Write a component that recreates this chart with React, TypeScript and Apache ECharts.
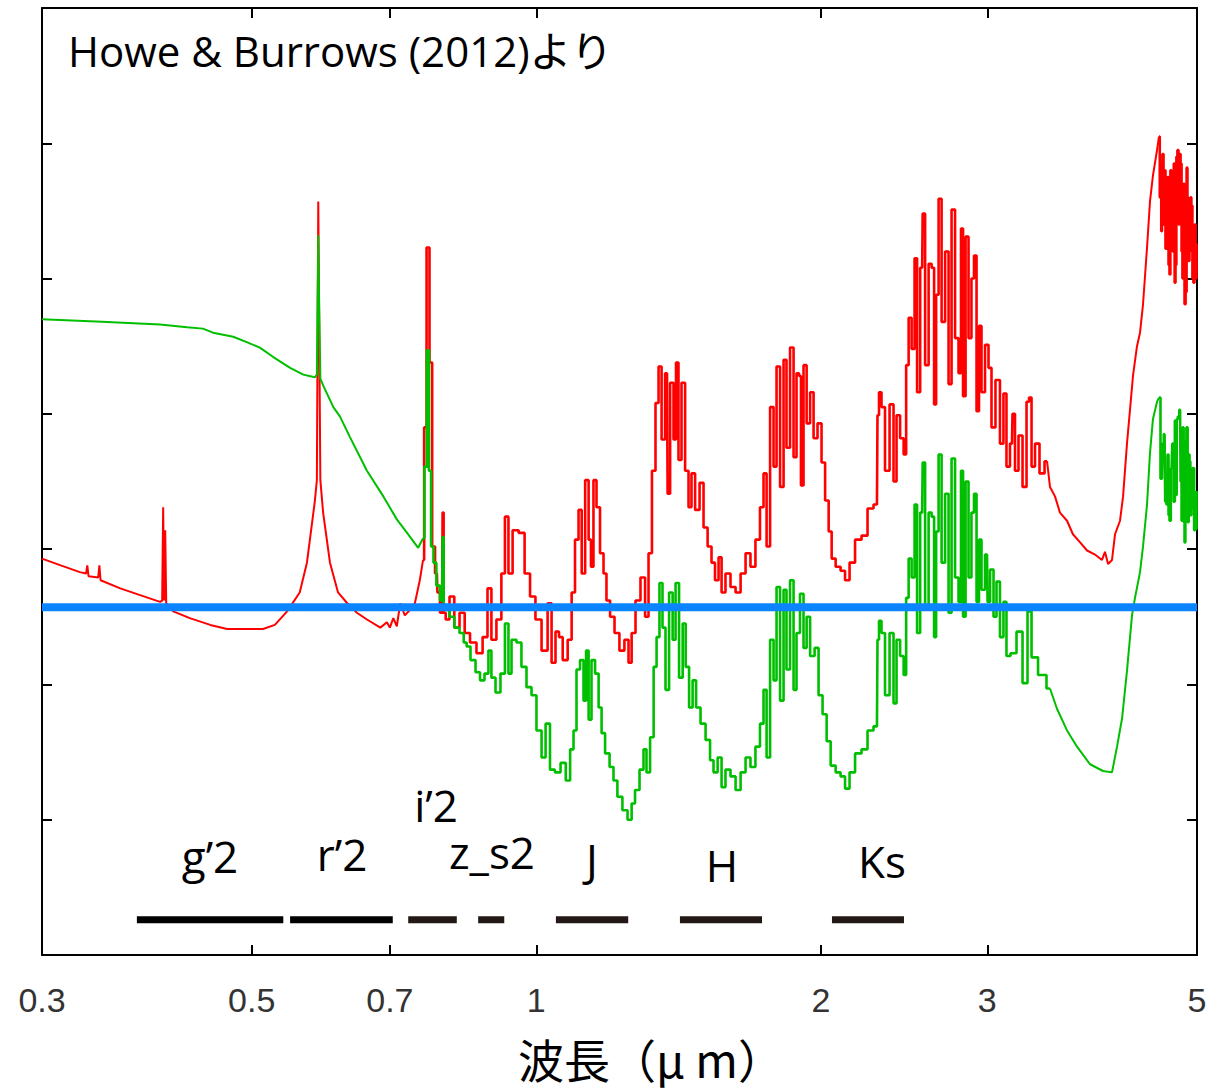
import React, { useEffect, useRef } from "react";
import * as echarts from "echarts";

// x axis: wavelength (μm), logarithmic
const tickValues = [0.3, 0.5, 0.7, 1, 2, 3, 5];
const tickLabels = ["0.3", "0.5", "0.7", "1", "2", "3", "5"];

// spectra: [wavelength μm, flux (arbitrary units)]
const redSpectrum: [number, number][] = [
  [0.300,2.93],[0.314,2.88],[0.329,2.83],[0.334,2.82],[0.335,2.88],[0.336,2.80],[0.344,2.79],[0.345,2.88],[0.346,2.77],[0.363,2.71],
  [0.381,2.66],[0.400,2.61],[0.402,2.62],[0.403,3.31],[0.404,2.62],[0.405,3.14],[0.406,2.60],[0.413,2.54],[0.430,2.49],[0.452,2.44],
  [0.471,2.41],[0.514,2.41],[0.529,2.44],[0.545,2.54],[0.562,2.68],[0.572,2.90],[0.583,3.35],[0.586,3.51],[0.588,5.57],[0.591,3.51],
  [0.595,3.27],[0.605,2.90],[0.617,2.68],[0.631,2.60],[0.646,2.53],[0.662,2.48],[0.684,2.42],[0.695,2.46],[0.700,2.42],[0.706,2.49],
  [0.712,2.43],[0.718,2.60],[0.726,2.51],[0.735,2.55],[0.744,2.60],[0.753,2.77],[0.759,2.92],[0.763,3.90],[0.768,5.23],[0.774,4.38],
  [0.778,3.02],[0.785,2.82],[0.787,2.68],[0.795,2.53],[0.797,3.27],[0.799,2.53],[0.805,2.48],[0.814,2.65],[0.824,2.42],[0.835,2.53],
  [0.845,2.38],[0.857,2.31],[0.872,2.23],[0.883,2.35],[0.893,2.71],[0.900,2.33],[0.915,2.48],[0.922,2.82],[0.931,3.24],[0.938,2.82],
  [0.950,3.14],[0.966,3.12],[0.978,2.82],[0.992,2.65],[1.004,2.48],[1.022,2.25],[1.034,2.60],[1.042,2.16],[1.054,2.39],[1.060,2.35],
  [1.073,2.18],[1.086,2.33],[1.094,2.68],[1.104,3.07],[1.113,3.29],[1.121,2.82],[1.132,3.51],[1.140,3.07],[1.145,2.87],[1.154,3.51],
  [1.162,3.31],[1.174,2.97],[1.182,2.82],[1.191,2.62],[1.203,2.50],[1.217,2.38],[1.232,2.25],[1.247,2.33],[1.257,2.16],[1.266,2.38],
  [1.281,2.62],[1.297,2.79],[1.310,2.50],[1.319,2.97],[1.332,3.58],[1.342,4.08],[1.352,4.35],[1.362,3.81],[1.375,4.30],[1.379,3.41],
  [1.392,4.23],[1.402,3.81],[1.409,4.38],[1.419,3.66],[1.430,4.23],[1.444,3.58],[1.454,3.31],[1.465,3.56],[1.480,3.29],[1.497,3.49],
  [1.509,3.16],[1.527,3.02],[1.538,2.90],[1.553,2.77],[1.565,2.94],[1.576,2.68],[1.595,2.82],[1.615,2.72],[1.635,2.68],[1.655,2.82],
  [1.675,2.97],[1.695,2.87],[1.716,3.07],[1.733,3.31],[1.746,3.56],[1.759,3.02],[1.776,4.05],[1.789,3.61],[1.802,4.35],[1.820,3.46],
  [1.833,4.40],[1.846,3.75],[1.865,4.49],[1.878,3.68],[1.892,4.30],[1.901,4.28],[1.910,3.47],[1.925,4.36],[1.939,3.93],[1.958,4.16],
  [1.972,3.82],[1.996,3.93],[2.011,3.64],[2.031,3.36],[2.046,3.13],[2.061,2.93],[2.086,2.87],[2.111,2.84],[2.132,2.77],[2.158,2.90],
  [2.190,3.07],[2.227,3.10],[2.255,3.30],[2.293,3.33],[2.299,3.99],[2.310,4.16],[2.327,4.05],[2.350,3.58],[2.379,4.07],[2.396,3.50],
  [2.414,3.99],[2.438,3.82],[2.456,3.70],[2.468,4.36],[2.486,4.71],[2.504,4.48],[2.522,5.15],[2.535,4.16],[2.560,5.08],[2.566,5.48],
  [2.591,4.36],[2.610,5.11],[2.629,5.08],[2.642,4.07],[2.655,4.88],[2.674,5.59],[2.694,4.68],[2.720,5.20],[2.740,4.22],[2.760,5.51],
  [2.787,4.56],[2.807,4.30],[2.821,5.37],[2.835,4.13],[2.856,5.31],[2.876,4.56],[2.897,5.00],[2.912,5.17],[2.933,4.02],[2.947,4.65],
  [2.969,4.16],[2.998,4.51],[3.020,4.34],[3.042,3.90],[3.079,4.25],[3.109,3.78],[3.132,4.15],[3.155,3.61],[3.186,3.78],[3.194,4.00],
  [3.225,3.58],[3.249,3.84],[3.289,3.46],[3.313,4.09],[3.329,4.12],[3.354,3.61],[3.386,3.78],[3.428,3.56],[3.470,3.65],[3.495,3.46],
  [3.538,3.39],[3.581,3.27],[3.643,3.21],[3.696,3.11],[3.761,3.05],[3.825,2.99],[3.900,2.96],[3.967,2.92],[3.996,2.98],[4.026,2.89],
  [4.065,2.92],[4.095,3.11],[4.145,3.21],[4.176,3.39],[4.216,3.78],[4.247,4.03],[4.278,4.28],[4.320,4.50],[4.352,4.60],[4.384,4.81],
  [4.427,5.23],[4.459,5.57],[4.491,5.76],[4.536,5.95],[4.558,6.05],[4.575,5.60],[4.591,5.35],[4.602,5.92],[4.615,5.40],[4.625,5.80],
  [4.636,5.22],[4.648,5.28],[4.660,5.75],[4.670,5.10],[4.682,5.03],[4.690,5.80],[4.705,5.67],[4.720,5.20],[4.730,5.85],[4.740,4.97],
  [4.750,5.10],[4.760,5.90],[4.774,5.95],[4.785,5.40],[4.798,5.92],[4.810,5.85],[4.821,5.20],[4.830,5.00],[4.845,5.70],[4.856,4.81],
  [4.870,4.90],[4.880,5.82],[4.890,5.60],[4.903,5.13],[4.915,5.20],[4.925,5.60],[4.939,5.54],[4.950,5.00],[4.963,4.97],[4.975,5.40],
  [4.990,5.00],[5.000,5.26],
];

const greenSpectrum: [number, number][] = [
  [0.300,4.70],[0.347,4.68],[0.400,4.66],[0.427,4.64],[0.444,4.63],[0.455,4.60],[0.478,4.57],[0.494,4.53],[0.510,4.49],[0.527,4.42],
  [0.549,4.34],[0.567,4.29],[0.583,4.27],[0.586,4.29],[0.588,5.32],[0.589,4.91],[0.591,4.26],[0.595,4.21],[0.610,4.05],[0.620,3.98],
  [0.635,3.83],[0.662,3.58],[0.689,3.39],[0.712,3.22],[0.730,3.12],[0.750,3.01],[0.759,3.08],[0.764,3.61],[0.768,4.47],[0.772,3.58],
  [0.776,3.02],[0.781,2.90],[0.787,2.73],[0.795,2.62],[0.797,3.09],[0.799,2.59],[0.805,2.55],[0.814,2.50],[0.824,2.42],[0.835,2.38],
  [0.841,2.31],[0.847,2.28],[0.857,2.18],[0.868,2.09],[0.876,2.03],[0.887,2.08],[0.893,2.25],[0.900,2.05],[0.911,1.94],[0.922,2.08],
  [0.931,2.45],[0.938,2.08],[0.945,2.33],[0.961,2.31],[0.968,2.13],[0.985,1.98],[0.992,1.92],[1.009,1.66],[1.017,1.46],[1.029,1.71],
  [1.039,1.37],[1.054,1.35],[1.068,1.42],[1.081,1.29],[1.091,1.52],[1.099,1.66],[1.107,2.11],[1.118,2.18],[1.126,1.88],[1.132,2.25],
  [1.140,1.74],[1.148,2.18],[1.160,2.08],[1.168,1.83],[1.177,1.64],[1.188,1.49],[1.203,1.39],[1.211,1.29],[1.226,1.17],[1.241,1.07],
  [1.257,1.00],[1.266,1.12],[1.278,1.22],[1.294,1.37],[1.303,1.52],[1.313,1.35],[1.326,1.61],[1.336,2.13],[1.345,2.35],[1.355,2.75],
  [1.365,2.42],[1.375,1.96],[1.389,2.68],[1.399,2.33],[1.409,2.75],[1.423,2.05],[1.434,2.45],[1.444,2.13],[1.458,1.83],[1.469,2.03],
  [1.483,1.83],[1.501,1.71],[1.520,1.59],[1.534,1.44],[1.546,1.35],[1.565,1.46],[1.576,1.24],[1.595,1.37],[1.615,1.32],[1.635,1.22],
  [1.655,1.35],[1.675,1.46],[1.695,1.39],[1.716,1.54],[1.733,1.71],[1.746,1.96],[1.759,1.46],[1.776,2.33],[1.789,2.03],[1.802,2.72],
  [1.820,1.88],[1.833,2.70],[1.846,2.11],[1.865,2.77],[1.878,1.96],[1.892,2.38],[1.910,2.67],[1.925,2.27],[1.939,2.50],[1.958,2.21],
  [1.982,2.27],[1.996,1.92],[2.021,1.78],[2.036,1.58],[2.061,1.40],[2.086,1.35],[2.111,1.32],[2.132,1.23],[2.158,1.35],[2.190,1.49],
  [2.227,1.52],[2.255,1.66],[2.293,1.69],[2.299,2.33],[2.310,2.47],[2.327,2.38],[2.350,1.92],[2.379,2.38],[2.396,1.86],[2.414,2.33],
  [2.438,2.21],[2.456,2.07],[2.468,2.64],[2.486,2.93],[2.504,2.79],[2.522,3.33],[2.535,2.38],[2.560,3.27],[2.566,3.64],[2.591,2.56],
  [2.610,3.27],[2.629,3.24],[2.642,2.35],[2.655,3.13],[2.674,3.70],[2.694,2.90],[2.720,3.41],[2.740,2.53],[2.760,3.67],[2.787,2.79],
  [2.807,2.61],[2.821,3.58],[2.835,2.50],[2.856,3.50],[2.876,2.79],[2.897,3.27],[2.912,3.41],[2.933,2.61],[2.947,3.07],[2.969,2.70],
  [2.998,2.96],[3.006,2.61],[3.035,2.85],[3.057,2.50],[3.079,2.76],[3.109,2.35],[3.132,2.61],[3.155,2.21],[3.194,2.23],[3.249,2.39],
  [3.289,2.01],[3.329,2.54],[3.354,2.20],[3.436,2.07],[3.495,1.97],[3.555,1.82],[3.643,1.66],[3.733,1.54],[3.853,1.41],[3.977,1.36],
  [4.065,1.35],[4.115,1.54],[4.166,1.75],[4.216,2.10],[4.268,2.51],[4.299,2.64],[4.352,2.83],[4.384,3.02],[4.427,3.33],[4.459,3.71],
  [4.491,3.96],[4.536,4.09],[4.558,4.12],[4.591,3.52],[4.602,3.78],[4.620,3.85],[4.635,3.35],[4.648,3.33],[4.660,3.70],[4.670,3.25],
  [4.682,3.21],[4.700,3.60],[4.716,3.78],[4.730,3.35],[4.745,3.95],[4.755,3.40],[4.763,3.96],[4.780,3.98],[4.798,4.03],[4.810,3.50],
  [4.821,3.21],[4.835,3.90],[4.845,3.20],[4.856,3.05],[4.865,3.80],[4.880,3.90],[4.895,3.20],[4.905,3.70],[4.915,3.65],[4.925,3.25],
  [4.939,3.30],[4.955,3.60],[4.975,3.14],[4.990,3.15],[5.000,3.43],
];

// wavelength ranges where the model spectra are drawn as stepped (noisy) lines
const noisyRanges: [number, number][] = [[0.755, 3.45], [4.55, 5.0]];

const referenceLevel = 2.57;

// filter bands
const bandNames = ["g\u20192", "r\u20192", "i\u20192", "z_s2", "J", "H", "Ks"];
const bandStart = [0.378, 0.549, 0.732, 0.868, 1.049, 1.419, 2.055];
const bandEnd = [0.540, 0.705, 0.824, 0.925, 1.251, 1.733, 2.449];
const bandColors = ["#000000", "#000000", "#231815", "#231815", "#231815", "#231815", "#231815"];
const bandLevel = 0.26;

const titleText = "Howe & Burrows (2012)\u3088\u308a";
const xAxisName = "\u6ce2\u9577\uff08\u03bc m\uff09";

const L = (v: number) => Math.log10(v);
const isNoisy = (w: number) => noisyRanges.some(([a, b]) => w >= a && w <= b);

function splitSegments(data: [number, number][]) {
  const segs: { step: boolean; pts: [number, number][] }[] = [];
  let start = 0;
  for (let i = 1; i <= data.length; i++) {
    if (i === data.length) {
      segs.push({ step: isNoisy(data[start][0]), pts: data.slice(start) });
      break;
    }
    if (isNoisy(data[i][0]) !== isNoisy(data[start][0])) {
      segs.push({ step: isNoisy(data[start][0]), pts: data.slice(start, i + 1) });
      start = i;
    }
  }
  return segs;
}

export default function App() {
  const ref = useRef<HTMLDivElement>(null);
  useEffect(() => {
    if (!ref.current) return;
    const chart = echarts.init(ref.current, undefined, { renderer: "svg" });
    const tickLog = tickValues.map(L);
    const fmt = (v: number) => {
      const i = tickLog.findIndex((t) => Math.abs(t - v) < 1e-6);
      return i >= 0 ? tickLabels[i] : "";
    };
    const axisLine = { show: true, onZero: false, lineStyle: { color: "#000", width: 2 } };
    const xTick = { show: true, inside: true, length: 10, customValues: tickLog, lineStyle: { color: "#000", width: 2 } };
    const yTick = { show: true, inside: true, length: 10, lineStyle: { color: "#000", width: 2 } };

    const bandPx = [210, 342, 436, 492, 592, 722, 882];
    const bandPy = [856, 854, 805, 852, 859, 865, 861];

    const spectrumSeries = (data: [number, number][], name: string, color: string, z: number) =>
      splitSegments(data).map((seg) => ({
        type: "line",
        name,
        data: seg.pts.map(([w, f]) => [L(w), f]),
        step: seg.step ? "middle" : false,
        symbol: "none",
        lineStyle: { color, width: seg.step ? 2.6 : 2 },
        z,
      }));

    const bandSeries = bandNames.map((name, i) => ({
      type: "line",
      name,
      data: [[L(bandStart[i]), bandLevel], [L(bandEnd[i]), bandLevel]],
      symbol: "none",
      lineStyle: { color: bandColors[i], width: 7, cap: "butt" },
      z: 6,
    }));

    const option: any = {
      animation: false,
      grid: { left: 42, right: 24, top: 8, bottom: 135 },
      xAxis: [
        {
          type: "value", min: L(0.3), max: L(5), position: "bottom",
          axisLine, axisTick: xTick, splitLine: { show: false },
          axisLabel: {
            show: true, customValues: tickLog, formatter: fmt, margin: 28,
            fontSize: 34, color: "#333",
            fontFamily: '"Liberation Sans", Arial, sans-serif',
          },
        },
        {
          type: "value", min: L(0.3), max: L(5), position: "top",
          axisLine, axisTick: xTick, splitLine: { show: false }, axisLabel: { show: false },
        },
      ],
      yAxis: [
        {
          type: "value", min: 0, max: 7, interval: 1, position: "left",
          axisLine, axisTick: yTick, splitLine: { show: false }, axisLabel: { show: false },
        },
        {
          type: "value", min: 0, max: 7, interval: 1, position: "right",
          axisLine, axisTick: yTick, splitLine: { show: false }, axisLabel: { show: false },
        },
      ],
      series: [
        ...spectrumSeries(redSpectrum, "red", "#ff0000", 2),
        ...spectrumSeries(greenSpectrum, "green", "#00bf00", 3),
        {
          type: "line", name: "reference", data: [[L(0.3), referenceLevel], [L(5), referenceLevel]],
          symbol: "none", lineStyle: { color: "#0a84ff", width: 8 }, z: 4, clip: false,
        },
        ...bandSeries,
      ],
      graphic: [
        {
          type: "text", x: 68, y: 50,
          style: {
            text: titleText, fontSize: 42, fill: "#000",
            fontFamily: '"Open Sans", "Noto Sans CJK JP", sans-serif',
            align: "left", verticalAlign: "middle",
          },
        },
        {
          type: "text", x: 651, y: 1058,
          style: {
            text: xAxisName, fontSize: 46, fill: "#000",
            fontFamily: '"Noto Sans CJK JP", sans-serif',
            align: "center", verticalAlign: "middle",
          },
        },
        ...bandNames.map((name, i) => ({
          type: "text", x: bandPx[i], y: bandPy[i],
          style: {
            text: name, fontSize: 44, fill: "#000",
            fontFamily: '"Open Sans", sans-serif',
            align: "center", verticalAlign: "middle",
          },
        })),
      ],
    };
    chart.setOption(option);
    return () => chart.dispose();
  }, []);
  return (
    <div
      ref={ref}
      style={{ position: "absolute", left: 0, top: 0, width: 1221, height: 1090, background: "#fff" }}
    />
  );
}
